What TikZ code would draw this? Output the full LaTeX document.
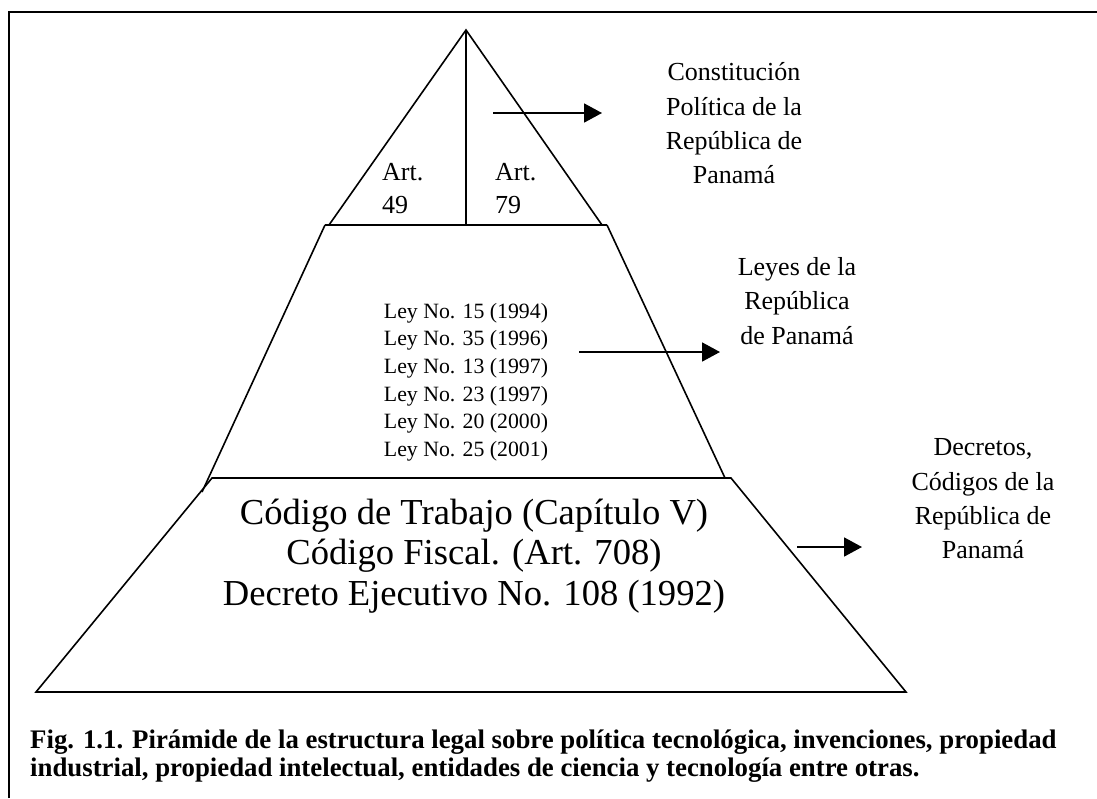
\documentclass[tikz,border=0pt]{standalone}
\usepackage{fontspec}
\setmainfont{Liberation Serif}
\usetikzlibrary{arrows.meta}
\begin{document}
\begin{tikzpicture}[x=1pt,y=-1pt,
  frame/.style={line width=2pt},
  pyr/.style={line width=1.6pt, line join=miter},
  arr/.style={line width=1.8pt,-{Triangle[length=18pt,width=19pt]}},
  lbl/.style={inner sep=0pt, align=center, font=\fontsize{26}{34.3}\selectfont},
  art/.style={inner sep=0pt, align=left, anchor=west, font=\fontsize{26}{33}\selectfont},
  ley/.style={inner sep=0pt, align=center, font=\fontsize{21.8}{27.6}\selectfont},
  big/.style={inner sep=0pt, align=center, font=\fontsize{36.6}{40.5}\selectfont},
  captext/.style={inner sep=0pt, align=left, anchor=base west, font=\fontsize{26.8}{28}\selectfont\bfseries}]
\useasboundingbox (0,0) rectangle (1097,798);
% frame
\draw[frame] (9,798) -- (9,12) -- (1097,12);
% pyramid: top triangle
\coordinate (apex) at (466,30);
\coordinate (tl) at (329,225);
\coordinate (tr) at (602,225);
\coordinate (tm) at (466,225);
\draw[pyr] (tl) -- (apex) -- (tr);
\draw[pyr] (apex) -- (tm);
% middle trapezoid
\coordinate (ml1) at (325,225);
\coordinate (mr1) at (607,225);
\coordinate (ml2) at (202,492);
\coordinate (mr2) at (725,478);
\draw[pyr] (ml1) -- (mr1);
\draw[pyr] (ml2) -- (ml1);
\draw[pyr] (mr1) -- (mr2);
% bottom trapezoid
\coordinate (bl1) at (212,478);
\coordinate (br1) at (731,478);
\coordinate (bl2) at (36,692);
\coordinate (br2) at (906,692);
\draw[pyr] (bl2) -- (bl1) -- (br1) -- (br2) -- cycle;
% texts inside
\node[art] (a49) at (382,188.5) {Art.\\49};
\node[art] (a79) at (495,188.5) {Art.\\79};
\node[ley] (leyes) at (466,382) {Ley No. 15 (1994)\\Ley No. 35 (1996)\\Ley No. 13 (1997)\\Ley No. 23 (1997)\\Ley No. 20 (2000)\\Ley No. 25 (2001)};
\node[big] (codigos) at (474,556) {Código de Trabajo (Capítulo V)\\Código Fiscal. (Art. 708)\\Decreto Ejecutivo No. 108 (1992)};
% labels
\node[lbl] (const) at (734,123.5) {Constitución\\Política de la\\República de\\Panamá};
\node[lbl] (leyesrep) at (797,301) {Leyes de la\\República\\de Panamá};
\node[lbl] (decr) at (983,499) {Decretos,\\Códigos de la\\República de\\Panamá};
% arrows
\coordinate (a1s) at (493,113);
\coordinate (a1e) at (602,113);
\coordinate (a2s) at (579,352);
\coordinate (a2e) at (720,352);
\coordinate (a3s) at (797,547);
\coordinate (a3e) at (862,547);
\draw[arr] (a1s) -- (a1e);
\draw[arr] (a2s) -- (a2e);
\draw[arr] (a3s) -- (a3e);
% caption
\node[captext] (caption) at (30,776) {Fig. 1.1. Pirámide de la estructura legal sobre política tecnológica, invenciones, propiedad\\industrial, propiedad intelectual, entidades de ciencia y tecnología entre otras.};
\end{tikzpicture}
\end{document}
